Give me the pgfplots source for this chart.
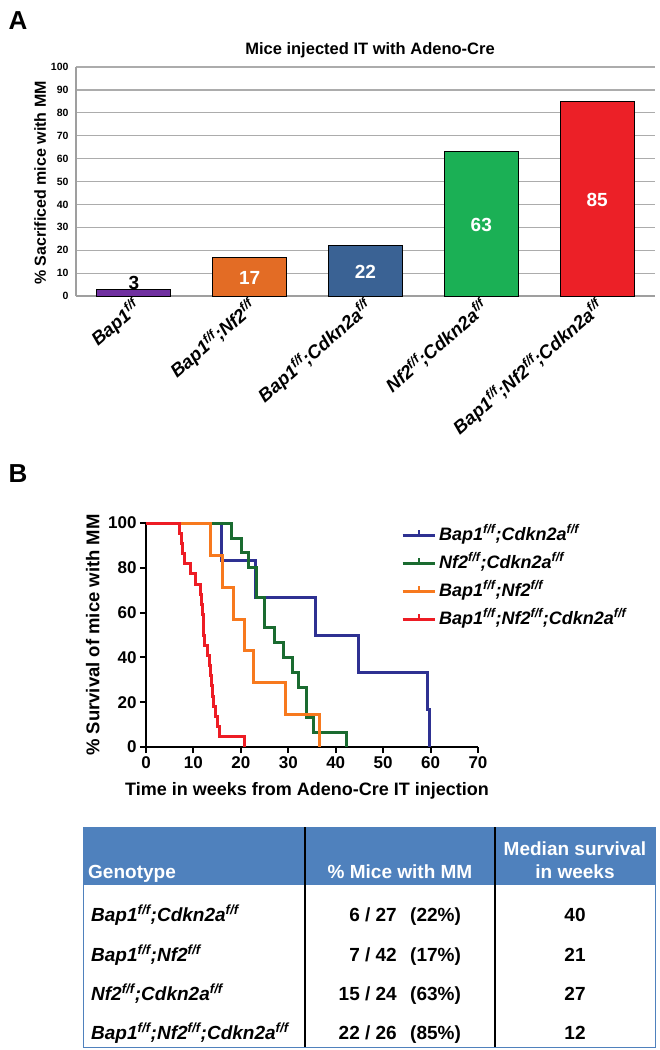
\documentclass[border=0pt]{standalone}
\usepackage{fontspec}
\setmainfont{Liberation Sans}
\usepackage{pgfplots}
\pgfplotsset{compat=1.18}
\definecolor{cpurple}{HTML}{7030A0}
\definecolor{corange}{HTML}{E36C25}
\definecolor{cblue}{HTML}{3A6294}
\definecolor{cgreen}{HTML}{1BB055}
\definecolor{cred}{HTML}{EC2027}
\definecolor{kblue}{HTML}{2E3192}
\definecolor{kgreen}{HTML}{1A6B30}
\definecolor{korange}{HTML}{F7791E}
\definecolor{kred}{HTML}{ED1C24}
\definecolor{thead}{HTML}{4F81BD}
\newcommand{\ff}{\textsuperscript{f/f}}
\newcommand{\fs}[1]{\fontsize{#1}{#1}\selectfont}
\begin{document}
\begin{tikzpicture}[x=1pt,y=1pt]
\useasboundingbox (0pt,0pt) rectangle (660pt,-1050pt);
% ---------------- Panel A ----------------
\node[font=\bfseries\fs{26}] at (18pt,-21pt) {A};
\node[font=\bfseries\fs{16.5}] at (370pt,-50pt) {Mice injected IT with Adeno-Cre};
\begin{axis}[at={(76pt,-296pt)}, anchor=south west, scale only axis,
  width=579pt, height=229pt,
  xmin=-0.5, xmax=4.5, ymin=0, ymax=100,
  ytick={0,10,...,100}, xtick={0,1,2,3,4},
  xticklabels={{Bap1\ff},{Bap1\ff;Nf2\ff},{Bap1\ff;Cdkn2a\ff},{Nf2\ff;Cdkn2a\ff},{Bap1\ff;Nf2\ff;Cdkn2a\ff}},
  axis x line*=bottom, axis y line*=left,
  axis line style={draw=gray!75, line width=1.5pt},
  ymajorgrids, grid style={gray!65, line width=1.2pt},
  major tick length=0pt,
  /pgf/number format/assume math mode=true,
  yticklabel style={font=\bfseries\fs{10.5}, xshift=-4pt},
  xticklabel style={font=\bfseries\itshape\fs{18.5}, rotate=41, anchor=east, yshift=-9pt, xshift=1pt},
  ylabel={\% Sacrificed mice with MM},
  ylabel style={font=\bfseries\fs{16}, at={(axis description cs:-0.062,0.493)}, anchor=center},
  clip=false,
]
\addplot[ybar, bar width=74pt, bar shift=0pt, fill=cpurple, draw=black, line width=1pt] coordinates {(0,3)};
\addplot[ybar, bar width=74pt, bar shift=0pt, fill=corange, draw=black, line width=1pt] coordinates {(1,17)};
\addplot[ybar, bar width=74pt, bar shift=0pt, fill=cblue, draw=black, line width=1pt] coordinates {(2,22)};
\addplot[ybar, bar width=74pt, bar shift=0pt, fill=cgreen, draw=black, line width=1pt] coordinates {(3,63)};
\addplot[ybar, bar width=74pt, bar shift=0pt, fill=cred, draw=black, line width=1pt] coordinates {(4,85)};
\node[font=\bfseries\fs{19}, text=black] at (axis cs:0,5.8) {3};
\node[font=\bfseries\fs{19}, text=white] at (axis cs:1,8) {17};
\node[font=\bfseries\fs{19}, text=white] at (axis cs:2,10.5) {22};
\node[font=\bfseries\fs{19}, text=white] at (axis cs:3,31) {63};
\node[font=\bfseries\fs{19}, text=white] at (axis cs:4,42) {85};
\end{axis}
% ---------------- Panel B ----------------
\node[font=\bfseries\fs{26}] at (18pt,-474pt) {B};
\begin{axis}[at={(146pt,-747pt)}, anchor=south west, scale only axis,
  width=332pt, height=224pt,
  xmin=0, xmax=70, ymin=0, ymax=100,
  xtick={0,10,...,70}, ytick={0,20,...,100},
  axis x line*=bottom, axis y line*=left,
  axis line style={black, line width=2.5pt},
  tick style={black, line width=2pt},
  major tick length=6pt, tick align=outside,
  /pgf/number format/assume math mode=true,
  ticklabel style={font=\bfseries\fs{17}},
  xlabel={Time in weeks from Adeno-Cre IT injection},
  xlabel style={font=\bfseries\fs{18}, at={(axis description cs:0.485,-0.197)}, anchor=center},
  ylabel={\% Survival of mice with MM},
  ylabel style={font=\bfseries\fs{18.5}, at={(axis description cs:-0.16,0.5)}, anchor=center},
  clip=false,
  legend image code/.code={\draw[#1] (0pt,0pt) -- (32pt,0pt); \draw[#1, line width=2pt] (16pt,0pt) -- (16pt,5pt);},
  legend style={at={(rel axis cs:0.768,0.996)}, anchor=north west, draw=none, fill=none,
    font=\bfseries\itshape\fs{18}, row sep=6pt, inner sep=0pt,
    nodes={inner sep=3pt, text height=13pt, text depth=3pt}},
  legend cell align=left,
]
\addplot[const plot, draw=kblue, line width=3pt] coordinates {
 (0,100)(16,83.3)(23,66.7)(35.7,50)(44.9,33.3)(59.3,16.7)(59.8,0)};
\addlegendentry{Bap1\ff;Cdkn2a\ff}
\addplot[const plot, draw=kgreen, line width=3pt] coordinates {
 (0,100)(18,93.3)(20.1,86.7)(21.6,80)(23.2,66.7)(25,53.3)(27.1,46.7)(28.9,40)(30.9,33.3)(32.1,26.7)(33.9,13.3)(35.3,6.7)(42.2,0)};
\addlegendentry{Nf2\ff;Cdkn2a\ff}
\addplot[const plot, draw=korange, line width=3pt] coordinates {
 (0,100)(13.7,85.7)(16.2,71.4)(18.4,57.1)(20.8,42.9)(22.6,28.6)(29.5,14.3)(36.5,0)};
\addlegendentry{Bap1\ff;Nf2\ff}
\addplot[const plot, draw=kred, line width=3pt] coordinates {
 (0,100)(7,95.5)(7.4,90.9)(7.8,86.4)(8.1,81.8)(9.3,77.3)(10.5,72.7)(11.4,68.2)(11.7,63.6)(11.9,59.1)(12.1,54.5)(12.2,50)(12.4,45.5)(13,40.9)(13.3,36.4)(13.5,31.8)(13.8,27.3)(14,22.7)(14.3,18.2)(14.6,13.6)(15,9.1)(15.4,4.5)(20.8,0)};
\addlegendentry{Bap1\ff;Nf2\ff;Cdkn2a\ff}
\end{axis}
% ---------------- Table ----------------
\fill[thead] (83pt,-827pt) rectangle (655pt,-885pt);
\draw[thead, line width=1pt] (83pt,-827pt) rectangle (655pt,-1047pt);
\draw[black, line width=1.2pt] (305pt,-827pt) -- (305pt,-1047pt);
\draw[black, line width=1.2pt] (495pt,-827pt) -- (495pt,-1047pt);
\begin{scope}[every node/.style={font=\bfseries\fs{19}, inner sep=0pt}]
\node[anchor=base west, text=white] at (88pt,-878pt) {Genotype};
\node[anchor=base, text=white] at (400pt,-878pt) {\% Mice with MM};
\node[anchor=base, text=white] at (575pt,-855pt) {Median survival};
\node[anchor=base, text=white] at (575pt,-878pt) {in weeks};
\foreach \y/\g/\n/\p/\m in {
  921/{Bap1\ff;Cdkn2a\ff}/{6 / 27}/{(22\%)}/40,
  961/{Bap1\ff;Nf2\ff}/{7 / 42}/{(17\%)}/21,
  1000/{Nf2\ff;Cdkn2a\ff}/{15 / 24}/{(63\%)}/27,
  1039/{Bap1\ff;Nf2\ff;Cdkn2a\ff}/{22 / 26}/{(85\%)}/12} {
  \node[anchor=base west, font=\bfseries\itshape\fs{19}] at (91pt,-\y pt) {\g};
  \node[anchor=base east] at (397pt,-\y pt) {\n};
  \node[anchor=base west] at (410pt,-\y pt) {\p};
  \node[anchor=base] at (575pt,-\y pt) {\m};
}
\end{scope}
\end{tikzpicture}
\end{document}
